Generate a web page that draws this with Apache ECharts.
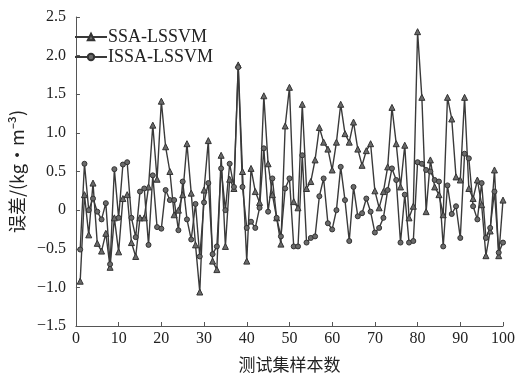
<!DOCTYPE html>
<html>
<head>
<meta charset="utf-8">
<script src="https://cdn.jsdelivr.net/npm/echarts@6/dist/echarts.min.js"></script>
<style>html,body{margin:0;padding:0;background:#fff}#c{width:519px;height:378px}</style>
</head>
<body>
<div id="c"></div>
<script>
const sampleIdx = Array.from({length: 100}, (_, i) => i + 1);
const ssaLssvm = [
  -0.92, 0.20, -0.32, 0.35, -0.43, -0.53, -0.30, -0.74, -0.10, -0.54,
  0.15, 0.20, -0.42, -0.60, -0.10, -0.10, 0.30, 1.10, 0.40, 1.41,
  0.82, 0.50, -0.06, 0.00, 0.20, 0.86, 0.22, -0.45, -1.06, 0.26,
  0.90, -0.66, -0.77, 0.71, -0.47, 0.40, 0.28, 1.88, 0.50, -0.66,
  0.54, 0.24, 0.10, 1.48, 0.60, 0.20, -0.10, -0.44, 1.09, 1.59,
  0.11, 0.03, 1.37, 0.28, 0.37, 0.65, 1.07, 0.88, 0.79, 0.52,
  0.88, 1.37, 0.99, 0.88, 1.14, 0.79, 0.58, 0.77, 0.86, 0.25,
  0.03, 0.24, 0.56, 1.33, 0.86, 0.30, 0.84, -0.10, 0.05, 2.31,
  1.46, -0.02, 0.65, 0.30, 0.20, -0.06, 1.46, 1.18, 0.43, 0.39,
  1.46, 0.28, 0.15, 0.39, 0.07, -0.59, -0.27, 0.52, -0.59, 0.13
];
const issaLssvm = [
  -0.51, 0.60, 0.00, 0.15, -0.02, -0.12, 0.09, -0.70, 0.53, -0.10,
  0.59, 0.62, -0.10, -0.35, 0.24, 0.28, -0.45, 0.45, -0.22, -0.24,
  0.26, 0.13, 0.13, -0.26, 0.37, -0.12, -0.38, 0.08, -0.60, 0.10,
  0.35, -0.57, -0.47, 0.54, 0.00, 0.60, 0.30, 1.85, 0.30, -0.23,
  -0.15, -0.23, 0.03, 0.80, -0.02, 0.41, -0.10, -0.34, 0.28, 0.41,
  -0.47, -0.47, 0.71, -0.42, -0.36, -0.34, 0.18, 0.41, -0.17, -0.25,
  0.00, 0.56, 0.13, -0.40, 0.30, -0.08, -0.04, 0.15, -0.02, -0.29,
  -0.23, -0.10, 0.26, 0.54, 0.39, -0.42, 0.20, -0.42, -0.40, 0.62,
  0.60, 0.52, 0.50, 0.39, 0.37, -0.47, 0.32, -0.05, 0.05, -0.36,
  0.73, 0.67, 0.05, -0.12, 0.35, -0.36, -0.23, 0.24, -0.55, -0.42
];
const seriesNames = ['SSA-LSSVM', 'ISSA-LSSVM'];
const xTicks = [0, 10, 20, 30, 40, 50, 60, 70, 80, 90, 100];
const yTicks = [-1.5, -1.0, -0.5, 0, 0.5, 1.0, 1.5, 2.0, 2.5];

const serif = '"Liberation Serif", "Times New Roman", serif';
const cjk = '"Noto Sans CJK SC", "Liberation Serif", serif';
const chart = echarts.init(document.getElementById('c'), null, {renderer: 'canvas'});
const lineCol = '#3a3a3a';
function pairs(vals) { return sampleIdx.map((x, i) => [x, vals[i]]); }
chart.setOption({
  animation: false,
  backgroundColor: '#fff',
  grid: {left: 67, right: 16, top: 17, bottom: 49, containLabel: false},
  legend: {
    left: 69, top: 23, orient: 'vertical', itemGap: 2,
    itemWidth: 32, itemHeight: 8,
    textStyle: {fontFamily: serif, fontSize: 18, color: '#222', padding: [0, 0, 0, -4]},
    data: seriesNames
  },
  xAxis: {
    type: 'value', min: xTicks[0], max: xTicks[xTicks.length - 1], interval: 10,
    name: '测试集样本数', nameLocation: 'middle', nameGap: 30,
    nameTextStyle: {fontFamily: cjk, fontSize: 17, color: '#222'},
    axisLine: {onZero: false, lineStyle: {color: '#555', width: 1}},
    axisTick: {inside: true, length: 4, lineStyle: {color: '#555'}},
    axisLabel: {fontFamily: serif, fontSize: 16, color: '#222', margin: 5},
    splitLine: {show: false}
  },
  yAxis: {
    type: 'value', min: yTicks[0], max: yTicks[yTicks.length - 1], interval: 0.5,
    name: '误差/(kg·m⁻³)', nameLocation: 'middle', nameGap: 47, nameRotate: 90,
    nameTextStyle: {fontFamily: cjk, fontSize: 18, color: '#222'},
    axisLine: {show: true, onZero: false, lineStyle: {color: '#555', width: 1}},
    axisTick: {show: true, inside: true, length: 4, lineStyle: {color: '#555'}},
    axisLabel: {
      fontFamily: serif, fontSize: 16, color: '#222', margin: 10,
      formatter: v => v === 0 ? '0' : (v < 0 ? '\u2212' + Math.abs(v).toFixed(1) : v.toFixed(1))
    },
    splitLine: {show: false}
  },
  series: [
    {
      name: seriesNames[0], type: 'line', data: pairs(ssaLssvm),
      symbol: 'triangle', symbolSize: 6, showAllSymbol: true,
      lineStyle: {color: lineCol, width: 1.4},
      itemStyle: {color: '#6a6a6a', borderColor: '#333', borderWidth: 1}
    },
    {
      name: seriesNames[1], type: 'line', data: pairs(issaLssvm),
      symbol: 'circle', symbolSize: 5, showAllSymbol: true,
      lineStyle: {color: lineCol, width: 1.4},
      itemStyle: {color: '#6a6a6a', borderColor: '#333', borderWidth: 1}
    }
  ]
});
</script>
</body>
</html>
